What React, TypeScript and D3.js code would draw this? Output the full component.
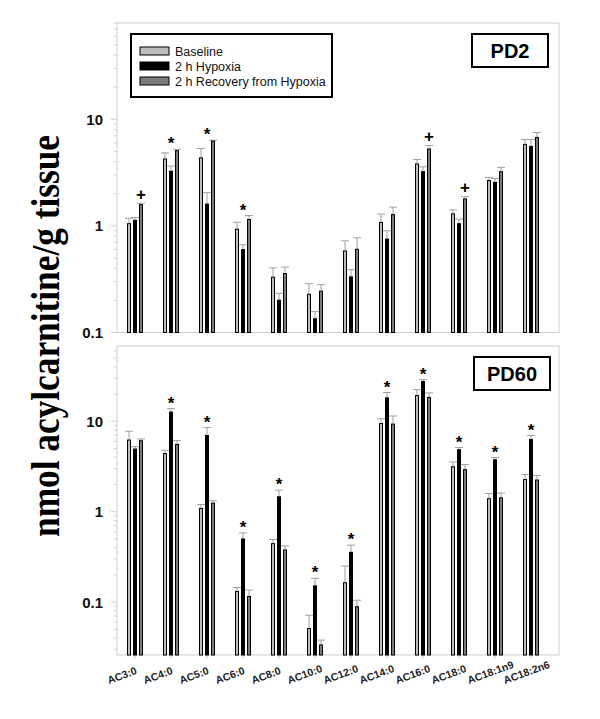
import React from 'react';
import * as d3 from 'd3';

// acylcarnitine species on the x axis
const categories = ['AC3:0', 'AC4:0', 'AC5:0', 'AC6:0', 'AC8:0', 'AC10:0', 'AC12:0', 'AC14:0', 'AC16:0', 'AC18:0', 'AC18:1n9', 'AC18:2n6'];
const seriesNames = ['Baseline', '2 h Hypoxia', '2 h Recovery from Hypoxia'];
const seriesFill = ['#bcbcbc', '#000000', '#7c7c7c'];
const yTickLabels = ['0.1', '1', '10'];

// PD2 panel (means and SE)
const pd2Baseline = [1.06, 4.29, 4.39, 0.94, 0.334, 0.231, 0.588, 1.09, 3.85, 1.31, 2.69, 5.88];
const pd2Hypoxia = [1.14, 3.29, 1.62, 0.605, 0.203, 0.136, 0.336, 0.76, 3.26, 1.06, 2.59, 5.63];
const pd2Recovery = [1.6, 5.13, 6.32, 1.16, 0.361, 0.247, 0.61, 1.29, 5.32, 1.81, 3.26, 6.83];
const pd2BaselineErr = [0.12, 0.55, 0.93, 0.14, 0.07, 0.056, 0.136, 0.2, 0.35, 0.1, 0.16, 0.58];
const pd2HypoxiaErr = [0.06, 0.35, 0.43, 0.06, 0.03, 0.021, 0.052, 0.14, 0.32, 0.1, 0.2, 0.83];
const pd2RecoveryErr = [0.03, 0.08, 0.04, 0.09, 0.05, 0.034, 0.163, 0.21, 0.36, 0.07, 0.28, 0.68];
const pd2Marks = [
  { cat: 'AC3:0', sym: '+', bar: 2 },
  { cat: 'AC4:0', sym: '*', bar: 1 },
  { cat: 'AC5:0', sym: '*', bar: 1 },
  { cat: 'AC6:0', sym: '*', bar: 1 },
  { cat: 'AC16:0', sym: '+', bar: 2 },
  { cat: 'AC18:0', sym: '+', bar: 2 },
];

// PD60 panel
const pd60Baseline = [6.28, 4.46, 1.1, 0.133, 0.449, 0.0516, 0.166, 9.57, 19.5, 3.18, 1.41, 2.3];
const pd60Hypoxia = [4.99, 12.8, 7.06, 0.506, 1.48, 0.153, 0.36, 18.4, 27.9, 4.91, 3.8, 6.37];
const pd60Recovery = [6.17, 5.61, 1.26, 0.117, 0.382, 0.034, 0.09, 9.43, 18.6, 2.95, 1.44, 2.27];
const pd60BaselineErr = [1.48, 0.32, 0.1, 0.012, 0.044, 0.02, 0.084, 1.1, 2.9, 0.37, 0.18, 0.28];
const pd60HypoxiaErr = [0.25, 1.0, 1.45, 0.077, 0.25, 0.03, 0.066, 2.4, 1.0, 0.21, 0.17, 0.58];
const pd60RecoveryErr = [0.2, 0.51, 0.06, 0.019, 0.037, 0.004, 0.015, 2.0, 2.0, 0.37, 0.17, 0.24];
const pd60Marks = ['AC4:0', 'AC5:0', 'AC6:0', 'AC8:0', 'AC10:0', 'AC12:0', 'AC14:0', 'AC16:0', 'AC18:0', 'AC18:1n9', 'AC18:2n6']
  .map(c => ({ cat: c, sym: '*', bar: 1 }));

const left = 117;
const right = 559;
const x = d3.scaleBand().domain(categories).range([left, 549]);
const barOffsets = [-6, 0, 6];
const barW = 4;
const gridColor = '#cfcfcf';
const sans = 'Arial, "Liberation Sans", sans-serif';

function minorTicks(domain) {
  const out = [];
  for (let e = -3; e <= 2; e++) {
    for (let m = 1; m <= 9; m++) {
      const v = m * Math.pow(10, e);
      if (v >= domain[0] && v <= domain[1]) out.push(v);
    }
  }
  return out;
}

function Panel({ y, top, bottom, means, errs, marks, label, labelBox, showX }) {
  const ticks = minorTicks(y.domain());
  const cx = c => x(c) + x.bandwidth() / 2;
  return (
    <g>
      <rect x={left} y={top} width={right - left} height={bottom - top} fill="none" stroke={gridColor} strokeWidth={1} />
      {ticks.map(t => {
        const major = yTickLabels.includes(String(t));
        return <line key={t} x1={major ? left - 6 : left - 3} x2={left} y1={y(t)} y2={y(t)} stroke={gridColor} strokeWidth={1} />;
      })}
      {yTickLabels.map(t => (
        <text key={t} x={103} y={y(+t)} dy="0.36em" textAnchor="end" fontFamily={sans} fontWeight="bold" fontSize={15} fill="#111">{t}</text>
      ))}
      {categories.map(c => (
        <line key={c} x1={cx(c)} x2={cx(c)} y1={bottom} y2={bottom + 4} stroke={gridColor} />
      ))}
      {means.map((vals, s) => (
        <g key={s}>
          {vals.map((v, i) => {
            const bx = cx(categories[i]) + barOffsets[s];
            const cap = y(v + errs[s][i]);
            return (
              <g key={i}>
                <line x1={bx} x2={bx} y1={y(v)} y2={cap} stroke="#a0a0a0" strokeWidth={1} />
                <line x1={bx - 4} x2={bx + 4} y1={cap} y2={cap} stroke="#a0a0a0" strokeWidth={1} />
                <rect x={bx - barW / 2 + 0.5} y={y(v) + 0.5} width={barW - 1} height={bottom - y(v) - 0.5}
                  fill={seriesFill[s]} stroke="#000" strokeWidth={1} />
              </g>
            );
          })}
        </g>
      ))}
      {marks.map(m => {
        const i = categories.indexOf(m.cat);
        const capTop = d3.min(means.map((vals, s) => y(vals[i] + errs[s][i])));
        const mx = cx(m.cat) + barOffsets[m.bar];
        const centerY = capTop - 9;
        return (
          <text key={m.cat} x={mx} y={m.sym === '*' ? centerY + 9 : centerY + 5.5} textAnchor="middle"
            fontFamily={sans} fontWeight="bold" fontSize={17} fill="#000">{m.sym}</text>
        );
      })}
      <rect x={labelBox[0]} y={labelBox[1]} width={labelBox[2]} height={labelBox[3]} fill="#fff" stroke="#000" strokeWidth={2} />
      <text x={labelBox[0] + labelBox[2] / 2} y={labelBox[1] + labelBox[3] / 2} dy="0.36em" textAnchor="middle"
        fontFamily={sans} fontWeight="bold" fontSize={20} fill="#000">{label}</text>
      {showX && categories.map(c => (
        <text key={c} transform={`translate(${cx(c) - 26},${bottom + 29}) rotate(-20)`} fontFamily={sans}
          fontWeight="bold" fontSize={10.5} fill="#222">{c}</text>
      ))}
    </g>
  );
}

export default function App() {
  const yTop = d3.scaleLog().domain([0.1, 80]).range([332.5, 23]);
  const yBottom = d3.scaleLog().domain([0.026, 68]).range([655, 346]);

  return (
    <svg width={600} height={719} style={{ position: 'absolute', left: 0, top: 0, background: '#fff' }}>
      <Panel y={yTop} top={23} bottom={332.5}
        means={[pd2Baseline, pd2Hypoxia, pd2Recovery]}
        errs={[pd2BaselineErr, pd2HypoxiaErr, pd2RecoveryErr]}
        marks={pd2Marks} label="PD2" labelBox={[472, 34, 76, 33]} showX={false} />
      <Panel y={yBottom} top={346} bottom={655}
        means={[pd60Baseline, pd60Hypoxia, pd60Recovery]}
        errs={[pd60BaselineErr, pd60HypoxiaErr, pd60RecoveryErr]}
        marks={pd60Marks} label="PD60" labelBox={[474, 357, 76, 33]} showX={true} />
      <g>
        <rect x={131} y={34} width={201} height={63} fill="#fff" stroke="#000" strokeWidth={2} />
        {seriesNames.map((n, i) => (
          <g key={n}>
            <rect x={140} y={47 + i * 15} width={29} height={8} fill={seriesFill[i]} stroke="#000" strokeWidth={1} />
            <text x={175} y={51 + i * 15} dy="0.36em" fontFamily={sans} fontSize={12.5} fill="#111">{n}</text>
          </g>
        ))}
      </g>
      <text transform="translate(59,336) rotate(-90)" textAnchor="middle" textLength={402} lengthAdjust="spacingAndGlyphs"
        fontFamily='"Times New Roman", "Liberation Serif", serif' fontWeight="bold" fontSize={41} fill="#000">
        nmol acylcarnitine/g tissue
      </text>
    </svg>
  );
}
